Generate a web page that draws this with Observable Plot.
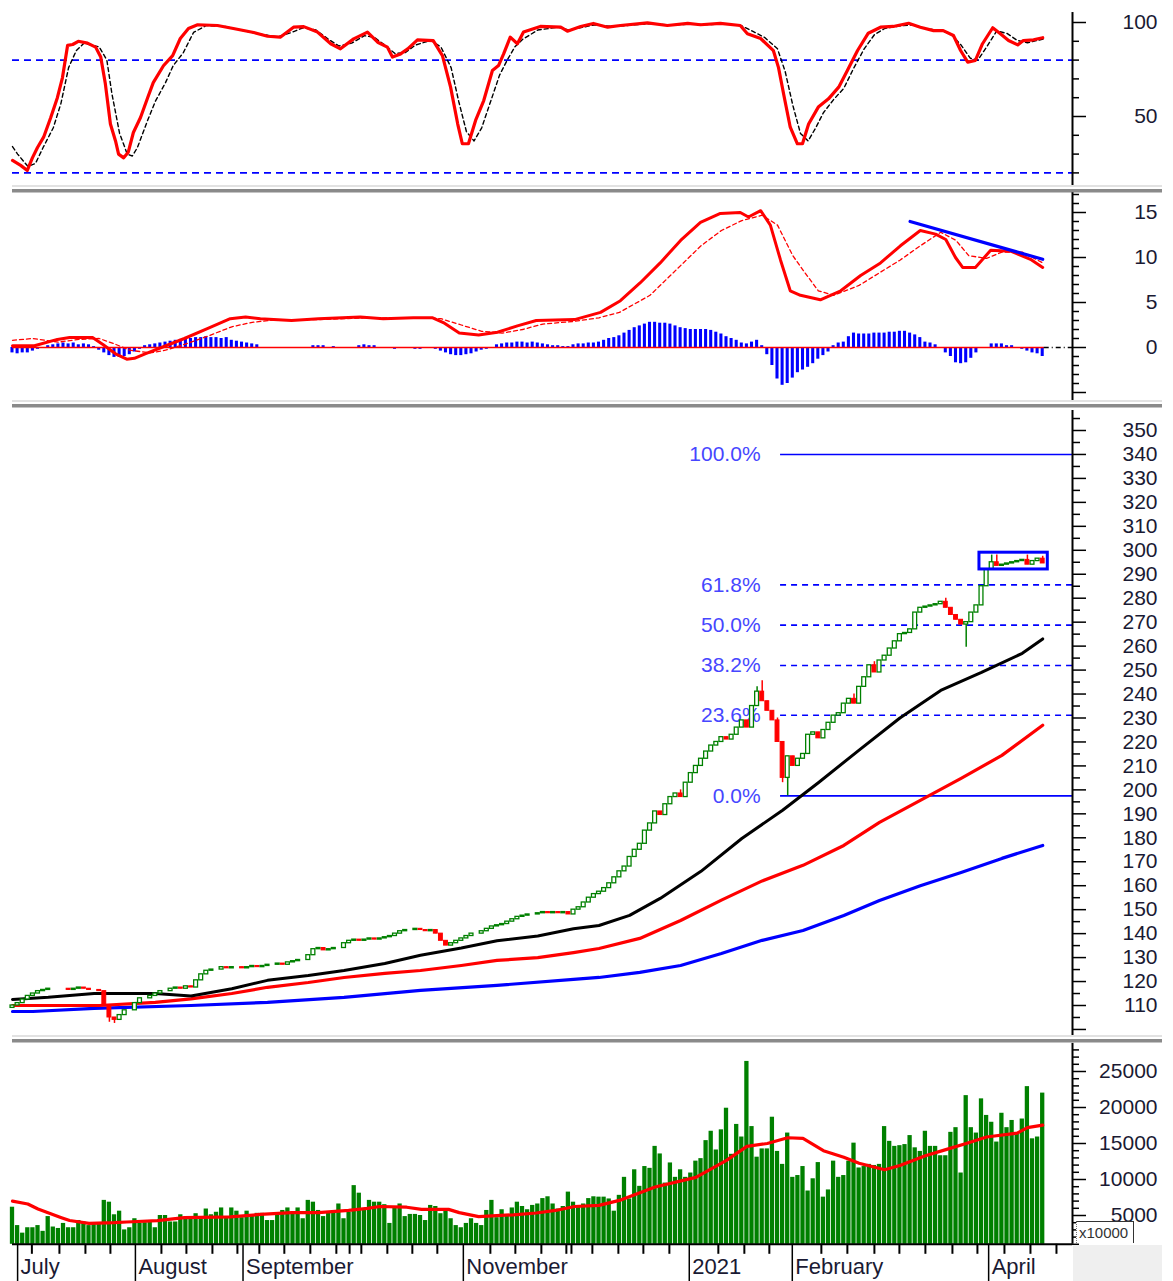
<!DOCTYPE html>
<html><head><meta charset="utf-8">
<script src="https://cdn.jsdelivr.net/npm/d3@7"></script>
<script src="https://cdn.jsdelivr.net/npm/@observablehq/plot@0.6"></script>
<style>
body{margin:0;background:#fff;}
#wrap{position:relative;width:1173px;height:1281px;overflow:hidden;background:#fff;font-family:"Liberation Sans",Arial,sans-serif;}
.panel{position:absolute;left:0;}
.sep{position:absolute;left:12px;width:1150px;height:8px;}
.sep .a{height:2px;background:#e2e2e2;}
.sep .b{height:2px;background:#fff;}
.sep .c{height:3px;background:#8a8a8a;}
.sep .d{height:1px;background:#c4c4c4;}
#corner{position:absolute;left:1073px;top:1245px;width:89px;height:36px;background:#efefef;}
#mult{position:absolute;left:1076px;top:1221px;width:58px;height:22px;background:#fff;border-top:1px solid #333;border-right:1px solid #333;border-left:1px dotted #777;font-size:15px;line-height:22px;color:#333;padding-left:2px;box-sizing:border-box;}
</style></head>
<body><div id="wrap"></div>
<script>
// ---------------- DATA ----------------
// Stochastic %K (red) and %D (black dashed): [trading-day index, value]
const stochK = [[0,26.6],[1.6,24],[2.9,21.3],[3.9,28],[4.9,33.5],[6.1,39],[7.5,49.5],[8.8,60],[9.8,70.7],[10.8,87.8],[11.8,88.3],[12.9,90],[14.7,89],[16.3,86.9],[17.3,81.6],[18.2,67.5],[19.2,46],[20.2,37],[20.8,30],[21.8,28],[22.7,31],[23.7,41.5],[25.1,49.5],[26.5,60],[27.6,68],[29.6,77],[31.4,82.4],[32.9,91.5],[34.5,96.8],[36.3,98.8],[40.2,98.4],[43.3,96.8],[47.3,94.7],[50,92.7],[52.5,92.2],[55.1,97.5],[57.1,97.8],[59.8,94.9],[62.4,88.7],[64.3,86],[66.9,91.3],[69.6,94.9],[71.6,89.5],[73.5,86.9],[74.5,81.6],[76.1,83.3],[77.5,86],[79.4,90.8],[82.5,90.4],[84.3,82.4],[85.9,65.6],[87.3,46],[88.2,35.5],[89.4,35.5],[90.8,47.9],[92.4,58.5],[94.1,74.5],[95.3,77.1],[96.3,83.3],[97.6,92.2],[99,88.7],[100.2,94.9],[103.5,97.9],[107.5,97.5],[108.8,95.4],[111.4,97.9],[113.9,99.5],[116.7,97.5],[119.2,98.4],[124.5,99.8],[128.4,98.4],[132.4,99.5],[134.9,98.8],[138.8,99.5],[142.7,98.4],[144.1,94],[146.7,91.5],[149.2,85],[150.2,76],[151.2,62],[152.5,44.3],[153.9,35.5],[154.9,35.5],[156.1,46],[158,55],[160,59.4],[162,65.6],[163.7,74.5],[165.7,85.1],[167.8,94.3],[170.2,97.5],[172.7,97.9],[175.7,99.6],[178,97.5],[180.6,95.7],[182.5,95.7],[184.5,93.1],[185.9,85.1],[187.3,78.9],[188.8,79.8],[190.2,88.7],[192.2,97.2],[193.7,94],[195.3,90.4],[197.1,88.1],[198.2,90.4],[200.2,90.8],[202,91.9]];
const stochD = [[0,34],[1,30],[3,23.5],[4.5,25],[6,33.5],[8,44],[9.5,57],[11,76],[12.5,85],[14,89],[17,87],[18.5,80],[19.5,62],[21,41],[22.5,30],[23.5,29],[24.5,33.5],[26.5,48],[28,58],[30,68],[31.5,77],[33.5,84],[35.5,94.7],[38,98.4],[42,97.8],[45,95.8],[49,93.6],[52,92.4],[54.5,94.5],[57,97.2],[59.5,96],[62,91],[64,87.5],[66.5,89],[69,93],[71,92],[73,88],[75,83.5],[77,84],[79,88],[82,90.5],[84,87],[86,76],[87.5,58],[89,42],[90.5,37],[92,44],[94,60],[95.5,72],[97,80],[98.5,87],[100,91],[103,96],[107,97.5],[109,96],[111,97],[114,98.7],[117,98],[120,98.3],[125,99.4],[129,98.6],[133,99.2],[136,98.9],[140,99.2],[143,98.2],[145,95.5],[147.5,92],[150,86],[151.5,74],[153,56],[154.5,41],[156,37],[157.5,44],[159,52],[161,59],[163,65],[165,76],[167,86],[169,93.5],[171,96.8],[174,98.2],[176.5,98.8],[179,96.8],[182,95.6],[184,94],[186,88],[187.8,81],[189.3,80],[191,87],[193,95.5],[195,94.2],[197,90.5],[199,89.2],[201,90.5],[202.5,91.5]];
const stochLevels = [20, 80];

// MACD line (red), signal (red dashed), histogram (blue, one per day)
const macdLine = [[0,0.2],[4.3,0.2],[8.8,0.9],[11.2,1.1],[15.7,1.1],[17.8,0.3],[20.2,-0.7],[22.4,-1.3],[23.9,-1.2],[26,-0.7],[29.2,0],[33.7,1.0],[38.2,2.1],[42.7,3.2],[45.7,3.4],[48.6,3.2],[54.7,3.0],[60,3.2],[68.2,3.4],[72.7,3.2],[78.6,3.3],[82.4,3.3],[84.7,2.7],[87.6,1.6],[91.4,1.4],[95.1,1.7],[99,2.4],[102.7,3.0],[110.2,3.1],[115.3,3.9],[119.2,5.2],[123.1,7.2],[127,9.4],[131,11.9],[134.9,13.9],[138.8,14.9],[142.7,15],[144.3,14.5],[146.7,15.2],[148.6,13.6],[150.6,9.7],[152.5,6.3],[154.5,5.8],[158.4,5.3],[162.4,6.3],[166.3,8],[170.2,9.4],[174.1,11.3],[178,13],[181,12.6],[183,12.0],[184.9,10.0],[186.3,8.9],[188.8,8.9],[191.8,10.8],[195.7,10.7],[199.6,9.8],[202,8.9]];
const macdSignal = [[0,0.8],[4,1.0],[9,0.6],[13,0.9],[17,1.0],[20,0.4],[23,-0.3],[27,-0.6],[30,-0.3],[34,0.4],[38,1.2],[43,2.3],[47,2.8],[52,3.1],[60,3.1],[70,3.3],[80,3.3],[84,3.2],[88,2.5],[92,1.8],[96,1.6],[100,2.0],[104,2.6],[110,2.9],[115,3.3],[119,3.9],[125,5.8],[131,9.1],[135,11.3],[139,13],[143,14.1],[147,14.7],[150,13.6],[153,10.2],[155,8.6],[158,6.3],[161,5.8],[166,6.9],[170,8.3],[174,9.7],[178,11.3],[182,12.8],[185,11.9],[187.5,10.2],[191,9.9],[194,10.6],[198,10.6],[202,9.4]];
const macdHist = [-0.6,-0.7,-0.6,-0.6,-0.4,-0.2,0,0.2,0.3,0.4,0.5,0.4,0.5,0.3,0.4,0.3,0.1,-0.3,-0.6,-0.9,-1.1,-1.1,-1.0,-0.8,-0.5,-0.2,
0.2,0.3,0.4,0.5,0.6,0.7,0.8,0.9,1.0,1.0,1.1,1.1,1.2,1.1,1.1,1.0,1.1,0.8,0.7,0.6,0.5,0.4,0.3,
0,0,0,0,0,0,0,0,0,0,0.2,0.2,0.2,0,0.1,0,0,0,0,0.2,0.3,0.2,0.2,0,0,0,-0.2,0,0,0,-0.2,-0.2,0,0,
-0.2,-0.4,-0.6,-0.8,-0.9,-0.9,-0.8,-0.7,-0.5,-0.3,-0.2,0,0.3,0.4,0.5,0.5,0.6,0.6,0.5,0.6,0.5,0.4,0.3,0.2,0.2,0.1,0.1,
0.3,0.4,0.4,0.5,0.5,0.6,0.8,1.0,1.1,1.3,1.6,1.9,2.2,2.4,2.6,2.8,2.8,2.7,2.7,2.6,2.4,2.2,2.1,2.0,2.0,2.0,2.0,1.9,1.7,1.5,1.2,1.0,0.8,0.5,0.4,0.6,0.8,0.2,
-0.8,-2.0,-3.5,-4.2,-4.0,-3.4,-2.8,-2.5,-2.2,-1.8,-1.3,-0.9,-0.5,
0.2,0.5,0.6,1.2,1.6,1.5,1.5,1.5,1.6,1.6,1.6,1.7,1.7,1.8,1.8,1.6,1.4,1.1,0.6,0.5,0.3,0,
-0.6,-1.0,-1.7,-1.8,-1.7,-1.2,-0.6,-0.1,0,0.4,0.4,0.4,0.2,0.2,0,-0.2,-0.4,-0.6,-0.7,-1.0];
const macdTrend = [[176,14.0],[202,9.8]];

// Daily closes (open = previous close), first open, and notable wick extremes
const firstOpen = 109;
const close = [110,111,112.5,114,115,116,116.5,117,117,117,
117,116.5,117,117.5,117,116.5,116.5,116,110,105,
104,106,108,108,111,113,113,114,115,116,
116,117,117.5,117,118,117.5,120.5,123,124.5,125,
125,126,125.5,126,126,125.5,126,126.5,126,126.5,
127,127,127.5,127,128,128.5,129,129,131,133.5,
134,133,133.5,134,134,136,137,137.5,137,137.5,
138,137.5,138,138.5,139,140,141,141.5,141.5,142,
141.5,141,141.5,140,137,135,136,137,138,139,
140,140,141,142,143,143.5,144,145,146,147,
147.5,148,148,148.5,149,148.5,149,148.5,149,148,
150,151,153,155,156.5,157.5,159,161,163.5,166,
168,172,175,177.5,183,186,191,189.5,194,197,
198.5,197,203,207,210,213,216,218.5,220,222,
221,223,226,229,226,235,241,237,233,229,
220,205,214,210,213,215,223,224,221.5,225,
228,231,232,236,238,236,243,247,252,249,
254,256,259,262,265,265.5,267,274,276,276.5,
277,277.5,278.5,276,273,271,269,270,274,277,
285,292,295,293.5,294,294.5,295,295.5,296,294,
295.5,296.5,294.5];
const wickDay  = [19,20,131,146,147,150,151,152,165,169,183,187,189,192,193,199,202];
const wickHigh = [null,null,200,243,245.5,230,null,null,240,253.5,280,null,null,298,298,298,297.5];
const wickLow  = [103,102.5,null,null,null,null,203,197.5,null,null,null,259.5,275,null,null,null,null];

// Moving averages on price
const maBlack = [[0,112.5],[7,113.4],[16,115],[28,115],[35,114],[43,117],[50,120.5],[58,122.5],[65,124.6],[73,127.5],[80,131],[88,134],[95,137],[103,139],[110,142],[115,143.4],[121,147.6],[127,154.7],[135,166],[143,179.7],[151,191.5],[158,203],[166,216.6],[174,230],[182,241.5],[190,249],[198,257],[202,263]];
const maRed = [[0,110],[17,110],[28,111.3],[35,112.8],[43,115],[50,117.6],[58,119.6],[65,121.7],[73,123.4],[80,124.6],[88,126.7],[95,128.8],[103,130],[110,132.1],[115,133.8],[123,138],[131,145.5],[139,154],[147,162],[155,168.5],[163,176.8],[170,186.4],[178,195.6],[186,204.8],[194,214.4],[202,227]];
const maBlue = [[0,107.5],[4,107.5],[16,108.8],[35,110],[50,111.3],[65,113.4],[80,116.3],[95,118.4],[110,120.9],[115,121.7],[123,123.8],[131,126.7],[139,131.7],[147,137.2],[155,141.3],[163,147.6],[170,153.8],[178,160],[186,165.5],[194,171.4],[202,176.8]];

// Fibonacci retracement
const fibPct = [0, 23.6, 38.2, 50, 61.8, 100];
const fibLow = 197.5, fibHigh = 340, fibStartDay = 150.6;
const consolBox = {d0: 189.6, d1: 203, lo: 292, hi: 299};

// Volume (units of 10000) and its moving average
const volume = [6150,3600,2550,3300,3300,3600,2800,4850,3400,3200,
3900,3300,3300,4300,4100,3600,3900,3900,7100,6850,
5100,5600,3000,3300,4550,3900,4000,4100,3300,5000,
5000,4100,4100,5100,4550,4550,5250,4700,5900,5100,
5450,6050,4700,6050,5600,4700,5600,5000,5300,5300,
4300,4300,5150,5700,6050,5250,6050,4550,7100,6850,
5700,4850,5300,5300,6600,4550,5450,9150,8100,5700,
7100,6850,6850,6500,3900,6250,6600,4850,5150,5150,
5000,4300,6400,6250,5250,5600,4550,3600,3300,3900,
4550,3900,3600,5700,7100,4700,5800,5000,6050,6850,
6250,5800,6400,6600,7350,7600,6600,5900,6250,8250,
6850,6250,6600,7350,7600,
7550,7550,7300,5600,7800,10300,7300,11350,9050,11800,
11550,14600,13550,9500,12300,10300,11350,10300,10900,12550,
12900,15400,16700,14100,16900,19900,13500,17650,15900,26400,
17350,13100,14250,14250,18650,13900,12100,16450,10300,10550,
11800,8400,10100,12350,7550,8550,12550,10300,10550,12550,
15050,11600,11800,12100,11950,12100,17350,15300,14600,14700,
14850,16100,14400,13900,16700,14600,14600,13300,13300,16550,
17200,10900,21650,17200,16450,21200,18900,17950,15200,19200,
17200,18200,16450,18400,22900,15650,15900,22000];
const volMA = [[0,7000],[3,6600],[5,5900],[7.5,5250],[9.6,4700],[11.2,4300],[15,3900],[20,4000],[22.4,4100],[28.4,4300],[33.7,4700],[42.7,4800],[48.6,5150],[54.7,5400],[60,5400],[65.9,5700],[69.6,6000],[72,6250],[77.3,6150],[80.2,5850],[85.5,5850],[87.6,5400],[91.4,4850],[98.2,5100],[102.7,5350],[106.5,5700],[110.2,6250],[115,6400],[119,7100],[126,8950],[134,10300],[140,12650],[144,14600],[148,15000],[152,15800],[155,15700],[159,14000],[163,13100],[166,12250],[171,11350],[174,11950],[179,13300],[183,14150],[187,15000],[191,15900],[197,16450],[199,17200],[202,17550]];

// Time axis
const monthTickDay = [1.0, 24.1, 45.2, 88.4, 132.7, 152.9, 191.4];
const monthLabel = ["July","August","September","November","2021","February","April"];
const weekTickDay = [3.8,9.2,14.3,19.2,29.2,34.1,39.2,44.1,48.4,53.3,58.4,63.5,66.1,68.4,73.5,78.4,83.3,93.7,98.6,103.7,108.6,109.6,113.7,118.8,123.7,128.8,138.4,143.5,148.4,158.6,163.7,169,173.9,179,184.3,189.2,194.5,199.6,204.7];

// ---------------- DRAWING ----------------
const XMAX = (1072 - 12) / 5.1;     // right edge of plotting area in day units
const PX = 1 / 5.1;                 // one pixel in day units
const LABEL_X = XMAX + 85 * PX;
const FONT = '"Liberation Sans", Arial, sans-serif';
const AXC = "#1a1a33";
const pts = arr => arr.map(([x, y]) => ({x, y}));

function panel(h, yDomain, yRange, marks) {
  return Plot.plot({
    width: 1173, height: h, marginLeft: 12, marginRight: 101, marginTop: 0, marginBottom: 0,
    x: {domain: [0, XMAX], range: [12, 1072], axis: null},
    y: {domain: yDomain, range: yRange, axis: null},
    style: {fontFamily: FONT, background: "transparent", overflow: "visible"},
    marks
  });
}
function rightAxis(top, bottom, minor, major, minorLen, majorLen, labels, fmt) {
  return [
    Plot.ruleY(minor.map(v => ({v, a: XMAX, b: XMAX + minorLen * PX})), {y: "v", x1: "a", x2: "b", stroke: "#000", strokeWidth: 1.5}),
    Plot.ruleY(major.map(v => ({v, a: XMAX, b: XMAX + majorLen * PX})), {y: "v", x1: "a", x2: "b", stroke: "#000", strokeWidth: 1.5}),
    Plot.ruleX([{x: XMAX, a: top, b: bottom}], {x: "x", y1: "a", y2: "b", stroke: "#000", strokeWidth: 2}),
    Plot.text(labels.map(v => ({v, t: fmt(v)})), {x: () => LABEL_X, y: "v", text: "t", textAnchor: "end", fontSize: 21, fill: AXC})
  ];
}
const range = (a, b, s) => d3.range(a, b + s / 2, s);

const wrap = document.getElementById("wrap");
function place(node, top) { node.classList.add("panel"); node.style.top = top + "px"; wrap.appendChild(node); }
function sep(top) {
  const d = document.createElement("div"); d.className = "sep"; d.style.top = top + "px";
  d.innerHTML = '<div class="a"></div><div class="b"></div><div class="c"></div><div class="d"></div>';
  wrap.appendChild(d);
}

// Panel 1: Stochastic
const p1 = panel(185, [50, 100], [116, 22], [
  Plot.ruleY(stochLevels.map(v => ({v, a: 0, b: XMAX})), {y: "v", x1: "a", x2: "b", stroke: "#0000ff", strokeWidth: 1.6, strokeDasharray: "7,5"}),
  Plot.line(pts(stochD), {x: "x", y: "y", stroke: "#000", strokeWidth: 1.4, strokeDasharray: "4,3"}),
  Plot.line(pts(stochK), {x: "x", y: "y", stroke: "#ff0000", strokeWidth: 3.2}),
  ...rightAxis(13.3, 105.3, [20,30,40,60,70,80,90], [50,100], 7, 14, [50,100], String)
]);
place(p1, 0);
sep(185);

// Panel 2: MACD
const histData = macdHist.map((v, i) => ({i, v})).filter(d => d.v !== 0);
const p2 = panel(208, [0, 15], [155, 20], [
  Plot.rect(histData, {x1: d => d.i - 0.3, x2: d => d.i + 0.3, y1: () => 0, y2: "v", fill: "#0000ff"}),
  Plot.ruleY([{v: 0, a: 0, b: 202.3}], {y: "v", x1: "a", x2: "b", stroke: "#ff0000", strokeWidth: 1.6}),
  Plot.ruleY([{v: 0, a: 202.3, b: XMAX}], {y: "v", x1: "a", x2: "b", stroke: "#000", strokeWidth: 1.3, strokeDasharray: "5,3,1,3"}),
  Plot.line(pts(macdSignal), {x: "x", y: "y", stroke: "#ff0000", strokeWidth: 1.3, strokeDasharray: "4,3"}),
  Plot.line(pts(macdLine), {x: "x", y: "y", stroke: "#ff0000", strokeWidth: 3}),
  Plot.line(pts(macdTrend), {x: "x", y: "y", stroke: "#0000ff", strokeWidth: 3.2}),
  ...rightAxis(-5.9, 17.2, range(-5, 17, 1).filter(v => v % 5 !== 0), [-5, 0, 5, 10, 15], 7, 14, [0, 5, 10, 15], String)
]);
place(p2, 192);
sep(400);

// Panel 3: Price
const candles = close.map((c, i) => {
  const o = i === 0 ? firstOpen : close[i - 1];
  let hi = Math.max(o, c), lo = Math.min(o, c);
  const k = wickDay.indexOf(i);
  if (k >= 0) { if (wickHigh[k] != null) hi = wickHigh[k]; if (wickLow[k] != null) lo = wickLow[k]; }
  return {i, o, c, hi, lo, up: c >= o};
});
const fibs = fibPct.map(p => ({p, v: fibLow + (fibHigh - fibLow) * p / 100, a: fibStartDay, b: XMAX, t: p.toFixed(1) + "%"}));
const p3 = panel(627, [110, 350], [597, 22], [
  Plot.ruleY(fibs.filter(f => f.p === 0 || f.p === 100), {y: "v", x1: "a", x2: "b", stroke: "#0000ff", strokeWidth: 1.6}),
  Plot.ruleY(fibs.filter(f => f.p !== 0 && f.p !== 100), {y: "v", x1: "a", x2: "b", stroke: "#0000ff", strokeWidth: 1.6, strokeDasharray: "6,5"}),
  Plot.text(fibs, {x: () => fibStartDay - 20 * PX, y: "v", text: "t", textAnchor: "end", fontSize: 21, fill: "#4646ff"}),
  Plot.line(pts(maBlue), {x: "x", y: "y", stroke: "#0000ff", strokeWidth: 3.2}),
  Plot.line(pts(maRed), {x: "x", y: "y", stroke: "#ff0000", strokeWidth: 3.2}),
  Plot.line(pts(maBlack), {x: "x", y: "y", stroke: "#000", strokeWidth: 3}),
  Plot.ruleX(candles, {x: "i", y1: "lo", y2: "hi", stroke: d => d.up ? "#008000" : "#ff0000", strokeWidth: 1.5}),
  Plot.rect(candles.filter(d => d.up), {x1: d => d.i - 0.38, x2: d => d.i + 0.38, y1: "o", y2: "c", fill: "#fff", stroke: "#008000", strokeWidth: 1.3}),
  Plot.rect(candles.filter(d => !d.up), {x1: d => d.i - 0.38, x2: d => d.i + 0.38, y1: "o", y2: "c", fill: "#ff0000", stroke: "#ff0000", strokeWidth: 1}),
  Plot.rect([consolBox], {x1: "d0", x2: "d1", y1: "lo", y2: "hi", fill: "none", stroke: "#0000ff", strokeWidth: 3}),
  ...rightAxis(97.5, 358.3, range(105, 355, 10), range(100, 350, 10), 8, 14, range(110, 350, 10), String)
]);
place(p3, 408);
sep(1035);

// Panel 4: Volume + time axis
const VBASE = 1000;
const volData = volume.map((v, i) => ({i, v}));
const months = monthTickDay.map((d, k) => ({d, t: monthLabel[k]}));
const p4 = panel(238, [5000, 25000], [172, 28], [
  Plot.rect(volData, {x1: d => d.i - 0.42, x2: d => d.i + 0.42, y1: () => VBASE, y2: "v", fill: "#008000"}),
  Plot.line(pts(volMA), {x: "x", y: "y", stroke: "#ff0000", strokeWidth: 3.2}),
  Plot.ruleY([{v: VBASE, a: 0, b: XMAX}], {y: "v", x1: "a", x2: "b", stroke: "#000", strokeWidth: 2}),
  Plot.ruleX(weekTickDay.map(d => ({d})), {x: "d", y1: () => VBASE, y2: () => VBASE - 10 / 0.0072, stroke: "#000", strokeWidth: 2}),
  Plot.ruleX(months, {x: "d", y1: () => VBASE, y2: () => -4400, stroke: "#000", strokeWidth: 1.5}),
  Plot.text(months, {x: d => d.d + 3 * PX, y: () => -2150, text: "t", textAnchor: "start", fontSize: 22, fill: AXC}),
  ...rightAxis(VBASE, 28900, range(1000, 28000, 1000).filter(v => v % 5000 !== 0), range(5000, 25000, 5000), 7, 14, range(5000, 25000, 5000), String)
]);
place(p4, 1043);

const corner = document.createElement("div"); corner.id = "corner"; wrap.appendChild(corner);
const mult = document.createElement("div"); mult.id = "mult"; mult.textContent = "x10000"; wrap.appendChild(mult);
</script>
</body></html>
